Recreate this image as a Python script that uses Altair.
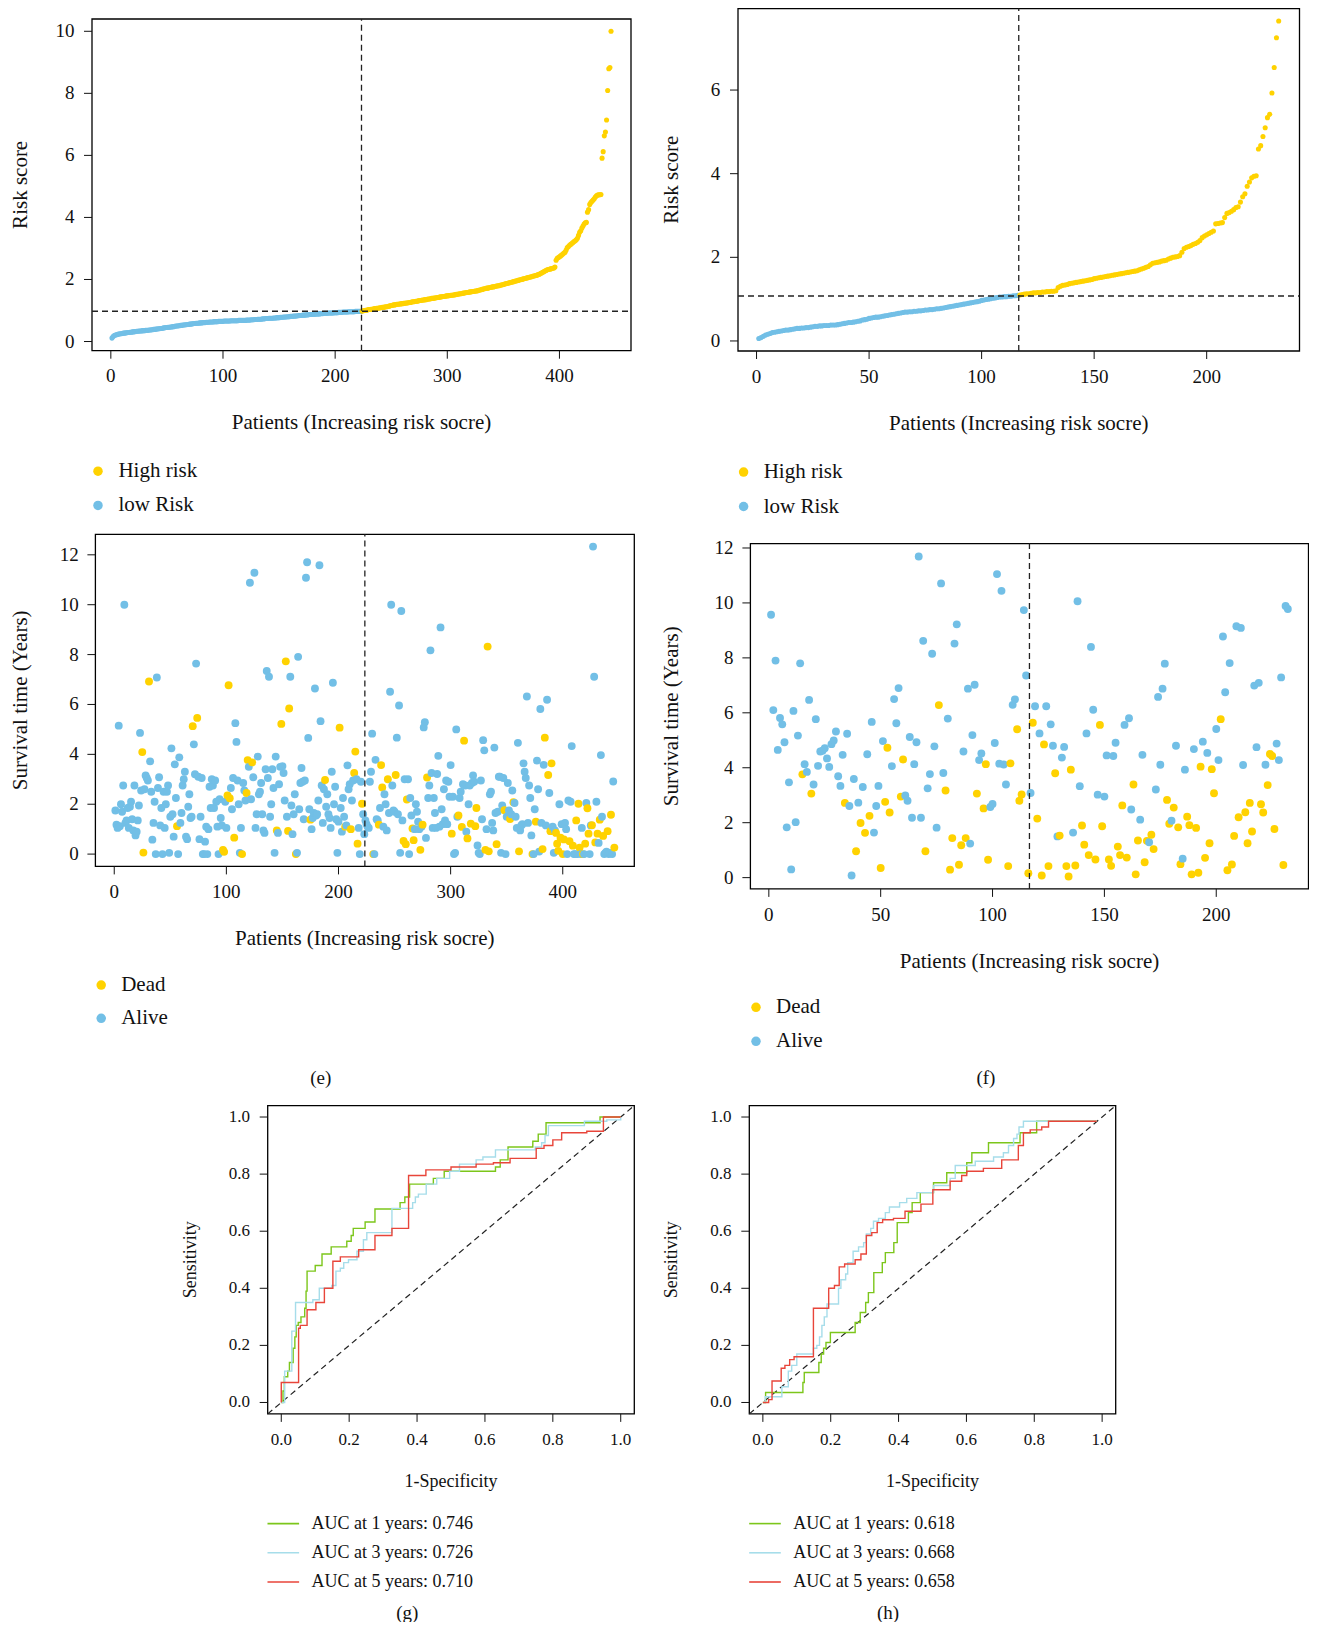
import altair as alt
import pandas as pd

W, H = 1301, 1614
FONT = "Liberation Serif"
INK = "#111111"
YELLOW = "#FFD200"
BLUE = "#72BFE6"
GREEN = "#7CC61B"
LBLUE = "#A6DDEA"
RED = "#E8453A"
DASH = [6, 4]

# ---------------- risk score, training set (sorted) ----------------
risk_train = [
    0.11, 0.16, 0.19, 0.21, 0.22, 0.23, 0.24, 0.25, 0.25, 0.26,
    0.27, 0.27, 0.28, 0.28, 0.29, 0.29, 0.30, 0.30, 0.31, 0.31,
    0.32, 0.32, 0.33, 0.33, 0.34, 0.34, 0.34, 0.35, 0.35, 0.35,
    0.36, 0.36, 0.36, 0.37, 0.37, 0.38, 0.38, 0.39, 0.39, 0.40,
    0.40, 0.41, 0.41, 0.42, 0.42, 0.43, 0.44, 0.44, 0.45, 0.45,
    0.46, 0.46, 0.47, 0.47, 0.48, 0.48, 0.49, 0.50, 0.50, 0.51,
    0.51, 0.52, 0.52, 0.53, 0.53, 0.54, 0.54, 0.55, 0.55, 0.56,
    0.56, 0.57, 0.57, 0.58, 0.58, 0.59, 0.59, 0.59, 0.60, 0.60,
    0.60, 0.61, 0.61, 0.61, 0.62, 0.62, 0.62, 0.63, 0.63, 0.63,
    0.63, 0.64, 0.64, 0.64, 0.64, 0.65, 0.65, 0.65, 0.65, 0.65,
    0.66, 0.66, 0.66, 0.66, 0.66, 0.66, 0.67, 0.67, 0.67, 0.67,
    0.67, 0.67, 0.67, 0.68, 0.68, 0.68, 0.68, 0.68, 0.68, 0.68,
    0.69, 0.69, 0.69, 0.69, 0.70, 0.70, 0.70, 0.71, 0.71, 0.71,
    0.72, 0.72, 0.72, 0.72, 0.73, 0.73, 0.73, 0.74, 0.74, 0.74,
    0.75, 0.75, 0.75, 0.75, 0.76, 0.76, 0.76, 0.77, 0.77, 0.77,
    0.78, 0.78, 0.78, 0.79, 0.79, 0.79, 0.80, 0.80, 0.80, 0.81,
    0.81, 0.81, 0.82, 0.82, 0.82, 0.83, 0.83, 0.84, 0.84, 0.84,
    0.85, 0.85, 0.85, 0.86, 0.86, 0.86, 0.87, 0.87, 0.87, 0.88,
    0.88, 0.88, 0.89, 0.89, 0.89, 0.89, 0.90, 0.90, 0.90, 0.91,
    0.91, 0.91, 0.91, 0.92, 0.92, 0.92, 0.92, 0.92, 0.93, 0.93,
    0.93, 0.93, 0.94, 0.94, 0.94, 0.94, 0.95, 0.95, 0.95, 0.95,
    0.95, 0.96, 0.96, 0.96, 0.96, 0.96, 0.96, 0.97, 0.97, 0.97,
    0.97, 0.97, 0.97,
    0.98, 0.99, 1.00, 1.01, 1.01, 1.02, 1.03,
    1.03, 1.04, 1.04, 1.05, 1.06, 1.06, 1.07, 1.07, 1.08, 1.09,
    1.09, 1.10, 1.10, 1.11, 1.12, 1.12, 1.13, 1.14, 1.15, 1.16,
    1.17, 1.18, 1.18, 1.19, 1.20, 1.20, 1.21, 1.21, 1.22, 1.22,
    1.23, 1.23, 1.24, 1.24, 1.25, 1.26, 1.26, 1.27, 1.28, 1.28,
    1.29, 1.30, 1.30, 1.31, 1.32, 1.32, 1.33, 1.34, 1.34, 1.35,
    1.35, 1.36, 1.37, 1.37, 1.38, 1.39, 1.39, 1.40, 1.40, 1.41,
    1.42, 1.42, 1.43, 1.44, 1.44, 1.45, 1.45, 1.46, 1.47, 1.47,
    1.48, 1.48, 1.49, 1.49, 1.50, 1.50, 1.51, 1.52, 1.52, 1.53,
    1.54, 1.54, 1.55, 1.56, 1.56, 1.57, 1.58, 1.58, 1.59, 1.60,
    1.60, 1.61, 1.61, 1.62, 1.63, 1.63, 1.64, 1.65, 1.66, 1.67,
    1.68, 1.69, 1.70, 1.71, 1.72, 1.72, 1.73, 1.74, 1.75, 1.76,
    1.76, 1.77, 1.78, 1.79, 1.80, 1.80, 1.81, 1.82, 1.83, 1.84,
    1.85, 1.86, 1.87, 1.88, 1.89, 1.90, 1.91, 1.92, 1.93, 1.94,
    1.95, 1.96, 1.97, 1.98, 1.99, 2.00, 2.01, 2.02, 2.03, 2.04,
    2.05, 2.06, 2.07, 2.08, 2.09, 2.10, 2.11, 2.12, 2.13, 2.14,
    2.16, 2.17, 2.19, 2.21, 2.23, 2.25, 2.27, 2.29, 2.31, 2.32,
    2.33, 2.34, 2.35, 2.36, 2.37, 2.40, 2.62, 2.68, 2.71, 2.73,
    2.76, 2.79, 2.82, 2.85, 2.88, 2.95, 3.03, 3.06, 3.10, 3.13,
    3.16, 3.19, 3.22, 3.25, 3.28, 3.33, 3.42, 3.52, 3.57, 3.66,
    3.72, 3.79, 3.83, 3.84, 4.17, 4.25, 4.42, 4.48, 4.52, 4.56,
    4.60, 4.66, 4.70, 4.72, 4.73, 4.73, 4.74, 5.91, 6.12, 6.63,
    6.75, 7.14, 8.09, 8.79, 8.83, 10.0,
]
n_low_train = 223
cut_train = 0.975

# ---------------- risk score, test set (sorted) ----------------
risk_test = [
    0.06, 0.08, 0.11, 0.14, 0.16, 0.18, 0.20, 0.21, 0.22, 0.23,
    0.24, 0.25, 0.26, 0.26, 0.27, 0.28, 0.29, 0.30, 0.30, 0.31,
    0.31, 0.32, 0.32, 0.33, 0.34, 0.35, 0.35, 0.36, 0.36, 0.37,
    0.37, 0.37, 0.38, 0.38, 0.38, 0.39, 0.40, 0.41, 0.42, 0.43,
    0.44, 0.44, 0.45, 0.46, 0.47, 0.48, 0.50, 0.51, 0.52, 0.54,
    0.55, 0.56, 0.57, 0.57, 0.58, 0.59, 0.60, 0.61, 0.62, 0.63,
    0.64, 0.65, 0.66, 0.67, 0.68, 0.69, 0.69, 0.70, 0.70, 0.71,
    0.71, 0.72, 0.72, 0.73, 0.74, 0.74, 0.75, 0.75, 0.76, 0.77,
    0.77, 0.78, 0.79, 0.80, 0.81, 0.82, 0.83, 0.84, 0.85, 0.86,
    0.87, 0.88, 0.89, 0.90, 0.91, 0.92, 0.93, 0.94, 0.95, 0.97,
    0.98, 0.99, 1.00, 1.01, 1.02, 1.03, 1.04, 1.05, 1.05, 1.06,
    1.06, 1.07, 1.07, 1.08, 1.08, 1.09,
    1.10, 1.11, 1.12, 1.13,
    1.13, 1.14, 1.15, 1.15, 1.16, 1.16, 1.17, 1.17, 1.18, 1.18,
    1.19, 1.19, 1.20, 1.28, 1.31, 1.33, 1.34, 1.35, 1.37, 1.38,
    1.39, 1.40, 1.41, 1.42, 1.43, 1.44, 1.45, 1.46, 1.47, 1.49,
    1.50, 1.51, 1.52, 1.53, 1.54, 1.55, 1.56, 1.57, 1.58, 1.59,
    1.60, 1.61, 1.62, 1.63, 1.64, 1.65, 1.66, 1.67, 1.68, 1.70,
    1.72, 1.74, 1.76, 1.78, 1.82, 1.86, 1.87, 1.88, 1.89, 1.91,
    1.92, 1.93, 1.96, 1.98, 2.00, 2.01, 2.02, 2.04, 2.12, 2.21,
    2.24, 2.26, 2.28, 2.31, 2.33, 2.36, 2.40, 2.47, 2.51, 2.54,
    2.57, 2.60, 2.63, 2.80, 2.81, 2.82, 2.83, 2.95, 3.05, 3.07,
    3.10, 3.14, 3.19, 3.21, 3.32, 3.45, 3.52, 3.70, 3.80, 3.90,
    3.94, 3.95, 4.59, 4.67, 4.89, 5.10, 5.34, 5.42, 5.93, 6.54,
    7.25, 7.65,
]
n_low_test = 116
cut_test = 1.075

# ---------------- survival, training set (patient order) ----------------
surv_train_time = [
    1.75, 1.18, 1.05, 5.15, 1.12, 2.0, 1.7, 2.75, 10.0, 1.25,
    1.35, 1.85, 1.05, 1.9, 2.1, 1.4, 0.95, 2.75, 0.75, 0.9,
    1.35, 1.95, 4.86, 2.55, 4.09, 0.06, 2.6, 3.15, 3.05, 2.95,
    6.92, 3.72, 2.5, 0.58, 1.25, 2.1, 0.0, 7.08, 2.65, 3.08,
    1.15, 1.85, 0.0, 2.5, 1.05, 2.0, 2.5, 2.75, 0.05, 1.5,
    4.24, 1.6, 0.7, 3.6, 2.25, 1.12, 0.0, 3.88, 1.25, 1.65,
    2.75, 3.0, 3.3, 0.7, 0.6, 1.9, 2.4, 1.45, 1.5, 5.13,
    4.40, 3.2, 7.64, 5.46, 3.1, 0.6, 1.5, 3.05, 0.0, 0.0,
    0.5, 1.1, 0.0, 1.0, 2.7, 1.85, 3.0, 2.75, 1.85, 2.95,
    2.1, 1.1, 0.0, 2.2, 1.45, 1.15, 0.17, 0.09, 2.1, 1.05,
    2.35, 6.77, 2.24, 2.65, 1.8, 3.05, 0.66, 5.25, 4.5, 2.95,
    2.0, 0.05, 1.05, 0.0, 2.85, 2.55, 2.15, 2.45, 3.77, 3.5,
    10.88, 2.2, 3.68, 3.08, 11.28, 1.05, 1.6, 3.91, 2.4, 2.5,
    2.85, 1.6, 0.95, 0.85, 3.4, 7.34, 3.05, 7.11, 1.5, 2.0,
    3.4, 2.65, 0.05, 3.91, 0.95, 0.85, 2.8, 3.5, 5.22, 3.53,
    3.25, 2.15, 7.73, 1.5, 0.93, 5.84, 7.11, 1.95, 0.8, 1.6,
    2.4, 0.0, 0.05, 7.91, 1.8, 2.85, 3.45, 2.9, 1.4, 2.95,
    11.08, 11.70, 4.66, 1.8, 1.38, 1.0, 1.45, 1.65, 6.64, 1.55,
    1.6, 2.15, 11.58, 5.33, 2.75, 1.25, 2.6, 2.97, 1.9, 2.4,
    1.6, 1.45, 1.05, 3.3, 6.87, 2.0, 2.7, 1.4, 0.05, 1.3,
    5.07, 1.85, 0.9, 2.25, 1.5, 1.10, 1.15, 3.56, 2.6, 2.8,
    1.0, 2.15, 2.95, 3.25, 4.11, 3.0, 0.42, 1.05, 0.0, 2.9,
    2.02, 1.6, 0.8, 1.35, 1.2, 1.1, 1.05, 2.9, 3.3, 4.83,
    0.0, 0.0, 3.78, 1.4, 1.35, 1.18, 1.85, 3.57, 2.67, 1.1,
    2.4, 2.0, 0.95, 3.0, 1.65, 6.51, 10.0, 2.75, 1.75, 1.7,
    3.17, 4.67, 1.6, 5.96, 0.05, 9.75, 1.35, 0.53, 3.0, 0.40,
    2.19, 3.0, 0.0, 2.25, 1.55, 1.03, 0.56, 1.0, 2.0, 1.7,
    1.3, 1.0, 0.17, 1.1, 1.18, 5.08, 5.29, 0.65, 3.07, 2.25,
    2.75, 8.17, 3.25, 1.05, 2.25, 1.65, 1.05, 3.21, 3.94, 1.1,
    9.09, 1.8, 1.2, 2.6, 1.35, 2.95, 1.2, 2.9, 2.3, 3.57,
    0.82, 2.3, 0.0, 0.05, 5.0, 1.5, 1.55, 2.25, 2.5, 1.09,
    2.8, 4.55, 2.75, 0.9, 0.63, 2.0, 2.75, 1.22, 2.85, 3.15,
    2.9, 1.12, 1.85, 0.35, 0.05, 0.0, 2.95, 1.4, 4.57, 4.16,
    0.17, 1.0, 8.32, 0.11, 2.4, 2.5, 1.25, 0.95, 4.27, 1.65,
    0.40, 1.7, 3.1, 3.1, 0.05, 1.95, 3.05, 1.76, 0.0, 1.5,
    2.85, 1.75, 1.41, 1.6, 2.55, 2.08, 2.05, 1.5, 1.05, 4.46,
    0.11, 0.95, 1.15, 1.2, 3.64, 3.3, 3.05, 6.32, 1.25, 2.75,
    2.25, 0.75, 0.0, 0.0, 1.8, 1.30, 3.75, 2.6, 0.1, 5.82,
    1.25, 0.20, 3.58, 4.67, 1.15, 6.19, 3.17, 2.45, 0.92, 3.64,
    1.1, 0.05, 0.95, 0.85, 0.42, 0.13, 2.0, 0.66, 1.2, 0.0,
    0.59, 1.25, 1.0, 0.0, 2.15, 0.52, 2.1, 4.33, 0.34, 0.0,
    0.0, 1.35, 0.0, 2.02, 0.26, 0.0, 1.05, 0.0, 0.0, 0.42,
    2.05, 1.84, 0.82, 0.0, 1.15, 1.16, 12.33, 7.11, 0.47, 2.1,
    0.82, 0.45, 1.38, 3.97, 1.5, 0.73, 0.0, 0.05, 0.1, 0.92,
    0.0, 0.05, 1.58, 0.0, 2.91, 0.26,
]
surv_train_dead = [
    0, 0, 0, 0, 0, 0, 0, 0, 0, 0,
    0, 0, 0, 0, 0, 0, 0, 0, 0, 0,
    0, 0, 0, 0, 1, 1, 0, 0, 0, 0,
    1, 0, 0, 0, 0, 0, 0, 0, 0, 0,
    0, 0, 0, 0, 0, 0, 0, 0, 0, 0,
    0, 0, 0, 0, 0, 1, 0, 0, 0, 0,
    0, 0, 0, 0, 0, 0, 0, 0, 0, 1,
    0, 0, 0, 1, 0, 0, 0, 0, 0, 0,
    0, 0, 0, 0, 0, 0, 0, 0, 0, 0,
    0, 0, 0, 0, 0, 0, 1, 1, 0, 0,
    1, 1, 1, 0, 0, 0, 1, 0, 0, 0,
    0, 0, 0, 1, 0, 0, 0, 1, 1, 0,
    0, 0, 1, 0, 0, 0, 0, 0, 0, 0,
    0, 0, 0, 0, 0, 0, 0, 0, 0, 0,
    0, 0, 0, 0, 1, 0, 0, 0, 1, 0,
    0, 0, 1, 0, 1, 1, 0, 0, 0, 0,
    0, 1, 0, 0, 0, 0, 0, 0, 0, 0,
    0, 0, 0, 0, 1, 0, 0, 0, 0, 0,
    0, 0, 0, 0, 0, 0, 0, 1, 0, 0,
    0, 0, 0, 0, 0, 0, 0, 0, 0, 0,
    1, 0, 0, 0, 0, 1, 0, 0, 0, 0,
    1, 0, 0, 1, 1, 0, 1, 0, 0, 0,
    1, 0, 0, 0, 0, 0, 0, 0, 0, 0,
    1, 0, 0, 0, 0, 1, 0, 1, 1, 0,
    0, 0, 0, 1, 0, 0, 0, 0, 0, 0,
    1, 0, 0, 0, 0, 0, 0, 1, 0, 1,
    1, 0, 0, 0, 0, 1, 1, 0, 0, 0,
    0, 0, 1, 0, 1, 0, 0, 0, 1, 0,
    0, 0, 0, 0, 0, 0, 0, 0, 0, 0,
    0, 0, 0, 0, 0, 0, 0, 0, 0, 0,
    1, 0, 0, 0, 0, 0, 1, 0, 0, 1,
    0, 1, 0, 0, 1, 0, 0, 1, 0, 0,
    0, 1, 1, 0, 0, 0, 0, 0, 0, 0,
    1, 0, 1, 1, 0, 0, 0, 0, 0, 0,
    1, 0, 0, 0, 0, 0, 0, 1, 0, 0,
    0, 0, 1, 0, 0, 1, 0, 0, 0, 0,
    1, 0, 0, 0, 0, 0, 0, 0, 0, 0,
    0, 0, 1, 0, 0, 1, 0, 0, 0, 0,
    0, 1, 0, 1, 0, 0, 1, 0, 1, 1,
    0, 0, 0, 1, 1, 1, 0, 1, 0, 1,
    1, 0, 0, 0, 0, 1, 0, 0, 1, 0,
    0, 1, 0, 1, 1, 0, 0, 1, 0, 1,
    0, 1, 1, 0, 0, 1, 0, 0, 1, 0,
    1, 0, 1, 0, 0, 1, 0, 0, 0, 1,
    0, 0, 1, 0, 0, 1,
]

# ---------------- survival, test set (patient order) ----------------
surv_test_time = [
    9.57, 6.1, 7.9, 4.65, 5.81, 5.58, 4.93, 1.83, 3.47, 0.3,
    6.07, 2.02, 5.17, 7.8, 3.76, 4.13, 3.85, 6.47, 3.06, 3.39,
    5.77, 4.07, 4.59, 4.62, 4.71, 4.34, 4.03, 4.86, 4.99, 5.32,
    3.69, 3.34, 4.47, 2.72, 5.24, 2.61, 0.08, 3.59, 0.96, 2.73,
    1.99, 3.30, 1.63, 4.49, 2.25, 5.67, 1.64, 2.61, 3.34, 0.35,
    4.97, 2.76, 4.73, 2.37, 4.06, 6.5, 5.62, 6.9, 2.95, 4.30,
    2.99, 2.80, 5.12, 2.18, 4.13, 4.93, 11.69, 2.18, 8.62, 0.96,
    3.25, 3.77, 8.15, 4.78, 1.82, 6.28, 10.71, 3.81, 3.17, 5.79,
    0.29, 1.44, 8.52, 9.22, 0.47, 1.18, 4.59, 1.44, 6.88, 1.24,
    5.19, 7.02, 3.06, 4.28, 4.52, 2.52, 4.13, 0.65, 2.57, 2.68,
    4.90, 11.05, 4.15, 10.44, 4.12, 3.39, 0.42, 4.16, 6.29, 6.49,
    5.40, 2.80, 3.03, 9.74, 7.36, 0.16, 3.08, 5.64, 6.24, 2.15,
    5.25, 0.08, 4.85, 6.24, 0.42, 5.58, 4.80, 3.80, 1.50, 1.53,
    4.37, 4.76, 0.42, 0.04, 3.93, 1.64, 0.44, 10.06, 3.33, 1.90,
    1.20, 5.25, 0.82, 8.40, 6.11, 0.66, 3.02, 5.56, 1.87, 2.95,
    4.45, 0.66, 0.43, 4.43, 4.91, 1.13, 0.82, 2.63, 5.56, 0.73,
    5.80, 2.48, 3.39, 0.12, 1.35, 2.11, 4.47, 0.56, 1.34, 1.29,
    1.56, 1.04, 3.21, 6.58, 4.11, 6.88, 7.79, 2.83, 1.96, 2.07,
    2.55, 4.80, 1.83, 0.49, 0.69, 3.93, 2.22, 1.91, 0.12, 4.68,
    1.81, 0.18, 4.04, 4.95, 0.72, 4.54, 1.25, 3.95, 3.07, 5.41,
    4.28, 5.77, 8.78, 6.75, 0.27, 7.81, 0.48, 1.52, 9.15, 2.20,
    9.09, 4.10, 2.38, 1.25, 2.72, 1.68, 6.99, 4.75, 7.09, 2.67,
    2.37, 4.11, 3.37, 4.50, 4.43, 1.77, 4.88, 4.28, 7.29, 0.46,
    9.89, 9.78,
]
surv_test_dead = [
    0, 0, 0, 0, 0, 0, 0, 0, 0, 0,
    0, 0, 0, 0, 1, 0, 0, 0, 1, 0,
    0, 0, 0, 0, 0, 0, 0, 0, 0, 0,
    0, 0, 0, 1, 0, 0, 0, 0, 1, 0,
    1, 0, 1, 0, 1, 0, 0, 0, 0, 1,
    0, 1, 1, 1, 0, 0, 0, 0, 1, 1,
    0, 0, 0, 0, 0, 0, 0, 0, 0, 1,
    0, 0, 0, 0, 0, 1, 0, 0, 1, 0,
    1, 1, 0, 0, 1, 1, 0, 1, 0, 0,
    0, 0, 1, 0, 0, 1, 1, 1, 0, 0,
    0, 0, 0, 0, 0, 0, 1, 1, 0, 0,
    1, 1, 1, 0, 0, 1, 0, 1, 0, 1,
    0, 1, 1, 0, 1, 0, 0, 1, 0, 1,
    0, 0, 1, 1, 1, 0, 1, 0, 0, 1,
    1, 0, 1, 0, 0, 1, 0, 1, 1, 0,
    0, 1, 1, 0, 0, 1, 1, 1, 0, 1,
    0, 0, 1, 1, 1, 0, 0, 1, 1, 0,
    1, 1, 0, 0, 0, 0, 0, 1, 1, 0,
    1, 0, 1, 1, 0, 0, 1, 1, 1, 0,
    1, 1, 1, 0, 1, 0, 1, 1, 1, 0,
    0, 1, 0, 0, 1, 0, 1, 1, 0, 1,
    0, 0, 1, 1, 1, 1, 0, 0, 0, 1,
    1, 0, 1, 1, 1, 1, 0, 0, 0, 1,
    0, 0,
]

# ---------------- time-dependent ROC, training set (g) ----------------
roc_g_labels = ["AUC at 1 years: 0.746", "AUC at 3 years: 0.726", "AUC at 5 years: 0.710"]
roc_g1_fpr = [0, 0.005, 0.009, 0.019, 0.024, 0.035, 0.040, 0.044, 0.050, 0.058, 0.069, 0.073,
              0.076, 0.100, 0.120, 0.147, 0.193, 0.206, 0.212, 0.247, 0.276, 0.350, 0.364,
              0.378, 0.448, 0.480, 0.631, 0.645, 0.668, 0.741, 0.757, 0.780, 0.939, 1.0]
roc_g1_tpr = [0, 0.04, 0.09, 0.11, 0.14, 0.19, 0.23, 0.27, 0.28, 0.30, 0.33, 0.39,
              0.46, 0.48, 0.52, 0.545, 0.565, 0.585, 0.61, 0.632, 0.678, 0.70, 0.72,
              0.765, 0.785, 0.81, 0.825, 0.85, 0.895, 0.915, 0.94, 0.98, 1.0, 1.0]
roc_g3_fpr = [0, 0.010, 0.031, 0.042, 0.093, 0.112, 0.149, 0.161, 0.174, 0.184, 0.198, 0.223,
              0.242, 0.252, 0.326, 0.387, 0.395, 0.404, 0.427, 0.458, 0.496, 0.525, 0.574,
              0.594, 0.631, 0.748, 0.767, 0.777, 0.787, 0.893, 0.959, 1.0]
roc_g3_tpr = [0, 0.11, 0.25, 0.35, 0.36, 0.40, 0.41, 0.46, 0.47, 0.49, 0.50, 0.53,
              0.57, 0.595, 0.68, 0.70, 0.72, 0.73, 0.765, 0.785, 0.81, 0.835, 0.85,
              0.86, 0.885, 0.895, 0.91, 0.935, 0.97, 0.985, 0.99, 1.0]
roc_g5_fpr = [0, 0.0, 0.051, 0.056, 0.076, 0.102, 0.127, 0.152, 0.174, 0.228, 0.276, 0.326,
              0.375, 0.426, 0.500, 0.574, 0.625, 0.674, 0.751, 0.774, 0.800, 0.826, 0.900,
              0.949, 1.0]
roc_g5_tpr = [0, 0.07, 0.26, 0.27, 0.325, 0.35, 0.40, 0.495, 0.51, 0.535, 0.585, 0.61,
              0.795, 0.815, 0.825, 0.835, 0.84, 0.855, 0.89, 0.90, 0.92, 0.945, 0.95,
              1.0, 1.0]

# ---------------- time-dependent ROC, test set (h) ----------------
roc_h_labels = ["AUC at 1 years: 0.618", "AUC at 3 years: 0.668", "AUC at 5 years: 0.658"]
roc_h1_fpr = [0, 0.008, 0.118, 0.122, 0.165, 0.172, 0.179, 0.186, 0.199, 0.272, 0.287, 0.303,
              0.311, 0.327, 0.352, 0.361, 0.386, 0.396, 0.429, 0.440, 0.464, 0.503, 0.542,
              0.601, 0.616, 0.665, 0.758, 0.807, 0.984]
roc_h1_tpr = [0, 0.035, 0.07, 0.105, 0.14, 0.17, 0.19, 0.21, 0.245, 0.28, 0.315, 0.35,
              0.385, 0.455, 0.49, 0.525, 0.56, 0.63, 0.665, 0.70, 0.735, 0.77, 0.805,
              0.84, 0.875, 0.91, 0.945, 0.985, 0.985]
roc_h3_fpr = [0, 0.007, 0.056, 0.075, 0.085, 0.100, 0.149, 0.159, 0.167, 0.174, 0.181, 0.189,
              0.223, 0.230, 0.244, 0.250, 0.266, 0.282, 0.297, 0.305, 0.318, 0.326, 0.341,
              0.361, 0.373, 0.403, 0.424, 0.454, 0.503, 0.552, 0.567, 0.626, 0.680, 0.709,
              0.724, 0.739, 0.749, 0.755, 0.768, 0.984]
roc_h3_tpr = [0, 0.02, 0.055, 0.11, 0.13, 0.17, 0.19, 0.20, 0.23, 0.27, 0.30, 0.345,
              0.40, 0.43, 0.45, 0.49, 0.53, 0.545, 0.56, 0.59, 0.61, 0.635, 0.645,
              0.665, 0.685, 0.70, 0.715, 0.735, 0.76, 0.785, 0.83, 0.845, 0.86, 0.875,
              0.90, 0.925, 0.94, 0.965, 0.985, 0.985]
roc_h5_fpr = [0, 0.017, 0.027, 0.054, 0.065, 0.079, 0.092, 0.149, 0.194, 0.211, 0.225, 0.241,
              0.272, 0.289, 0.305, 0.321, 0.337, 0.353, 0.385, 0.419, 0.466, 0.501, 0.552,
              0.586, 0.601, 0.650, 0.704, 0.753, 0.768, 0.788, 0.822, 0.842, 0.984]
roc_h5_tpr = [0, 0.01, 0.075, 0.12, 0.13, 0.15, 0.16, 0.33, 0.40, 0.41, 0.475, 0.485,
              0.50, 0.52, 0.585, 0.595, 0.63, 0.64, 0.645, 0.67, 0.695, 0.745, 0.775,
              0.795, 0.81, 0.82, 0.85, 0.90, 0.945, 0.955, 0.965, 0.985, 0.985]

captions = ["(e)", "(f)", "(g)", "(h)"]
ticks_train_x = [0, 100, 200, 300, 400]
ticks_test_x = [0, 50, 100, 150, 200]
ticks_risk_train_y = [0, 2, 4, 6, 8, 10]
ticks_risk_test_y = [0, 2, 4, 6]
ticks_surv_y = [0, 2, 4, 6, 8, 10, 12]
ticks_roc = [0.0, 0.2, 0.4, 0.6, 0.8, 1.0]


# ================= helpers =================
def scales(xd, xr, yd, yr):
    xs = alt.Scale(domain=xd, range=xr, nice=False, zero=False)
    ys = alt.Scale(domain=yd, range=yr, nice=False, zero=False)
    return xs, ys


def axis_marks(xd, xr, yd, yr, xs, ys, xticks, yticks, fmt, xtitle, ytitle,
               lab_dy, lab_dx, title_dy, ytitle_dy, size_l, size_t):
    ppx = abs(xr[1] - xr[0]) / (xd[1] - xd[0])
    ppy = abs(yr[0] - yr[1]) / (yd[1] - yd[0])
    tl = 8.0
    xt = pd.DataFrame({"v": xticks, "lab": [fmt(v) for v in xticks],
                       "b": [yd[0]] * len(xticks), "e": [yd[0] - tl / ppy] * len(xticks)})
    yt = pd.DataFrame({"v": yticks, "lab": [fmt(v) for v in yticks],
                       "b": [xd[0]] * len(yticks), "e": [xd[0] - tl / ppx] * len(yticks)})
    out = []
    out.append(alt.Chart(xt).mark_rule(color=INK, strokeWidth=1).encode(
        x=alt.X("v:Q", scale=xs, axis=None),
        y=alt.Y("b:Q", scale=ys, axis=None), y2="e:Q"))
    out.append(alt.Chart(xt).mark_text(font=FONT, fontSize=size_l, color=INK, align="center",
                                       baseline="middle", dy=lab_dy).encode(
        x=alt.X("v:Q", scale=xs, axis=None),
        y=alt.Y("b:Q", scale=ys, axis=None), text="lab:N"))
    out.append(alt.Chart(yt).mark_rule(color=INK, strokeWidth=1).encode(
        y=alt.Y("v:Q", scale=ys, axis=None),
        x=alt.X("b:Q", scale=xs, axis=None), x2="e:Q"))
    out.append(alt.Chart(yt).mark_text(font=FONT, fontSize=size_l, color=INK, align="right",
                                       baseline="middle", dx=lab_dx).encode(
        y=alt.Y("v:Q", scale=ys, axis=None),
        x=alt.X("b:Q", scale=xs, axis=None), text="lab:N"))
    tx = pd.DataFrame({"x": [(xd[0] + xd[1]) / 2], "y": [yd[0]], "t": [xtitle]})
    out.append(alt.Chart(tx).mark_text(font=FONT, fontSize=size_t, color=INK, align="center",
                                       baseline="middle", dy=title_dy).encode(
        x=alt.X("x:Q", scale=xs, axis=None),
        y=alt.Y("y:Q", scale=ys, axis=None), text="t:N"))
    ty = pd.DataFrame({"x": [xd[0]], "y": [(yd[0] + yd[1]) / 2], "t": [ytitle]})
    out.append(alt.Chart(ty).mark_text(font=FONT, fontSize=size_t, color=INK, align="center",
                                       baseline="middle", angle=270, dy=ytitle_dy).encode(
        x=alt.X("x:Q", scale=xs, axis=None),
        y=alt.Y("y:Q", scale=ys, axis=None), text="t:N"))
    return out


def legend(lx, ly, rowpad, lab_off, size_l, sym_type, sym_size, sym_sw):
    return alt.Legend(orient="none", legendX=lx, legendY=ly, title=None, padding=0,
                      rowPadding=rowpad, labelOffset=lab_off, labelFont=FONT,
                      labelFontSize=size_l, labelColor=INK, labelLimit=500,
                      symbolType=sym_type, symbolSize=sym_size, symbolStrokeWidth=sym_sw,
                      symbolOpacity=1, direction="vertical")


def frame(xd, yd, xs, ys):
    df = pd.DataFrame({"x0": [xd[0]], "x1": [xd[1]], "y0": [yd[0]], "y1": [yd[1]]})
    return alt.Chart(df).mark_rect(fillOpacity=0, stroke="black", strokeWidth=1.3).encode(
        x=alt.X("x0:Q", scale=xs, axis=None), x2="x1:Q",
        y=alt.Y("y0:Q", scale=ys, axis=None), y2="y1:Q")


def vline(v, yd, xs, ys):
    df = pd.DataFrame({"v": [v], "y0": [yd[0]], "y1": [yd[1]]})
    return alt.Chart(df).mark_rule(strokeDash=DASH, color="#222222", strokeWidth=1.3).encode(
        x=alt.X("v:Q", scale=xs, axis=None),
        y=alt.Y("y0:Q", scale=ys, axis=None), y2="y1:Q")


def hline(h, xd, xs, ys):
    df = pd.DataFrame({"h": [h], "x0": [xd[0]], "x1": [xd[1]]})
    return alt.Chart(df).mark_rule(strokeDash=DASH, color="#222222", strokeWidth=1.3).encode(
        y=alt.Y("h:Q", scale=ys, axis=None),
        x=alt.X("x0:Q", scale=xs, axis=None), x2="x1:Q")


def fmt_int(v):
    return str(int(round(v)))


def fmt_1(v):
    return "%.1f" % v


def risk_panel(scores, n_low, cut, xd, xr, yd, yr, xticks, yticks, title_dy, ytitle_dy,
               lab_dx, lx, ly, rowpad, loff):
    n = len(scores)
    df = pd.DataFrame({"patient": list(range(1, n + 1)), "score": scores,
                       "group": ["low Risk" if i < n_low else "High risk" for i in range(n)]})
    xs, ys = scales(xd, xr, yd, yr)
    pts = alt.Chart(df).mark_circle(size=26, opacity=1).encode(
        x=alt.X("patient:Q", scale=xs, axis=None),
        y=alt.Y("score:Q", scale=ys, axis=None),
        color=alt.Color("group:N",
                        scale=alt.Scale(domain=["High risk", "low Risk"], range=[YELLOW, BLUE]),
                        legend=legend(lx, ly, rowpad, loff, 21, "circle", 90, 0)))
    ax = axis_marks(xd, xr, yd, yr, xs, ys, xticks, yticks, fmt_int,
                    "Patients (Increasing risk socre)", "Risk score",
                    25.5, lab_dx, title_dy, ytitle_dy, 19, 21)
    return alt.layer(frame(xd, yd, xs, ys), pts, vline(n_low + 0.5, yd, xs, ys),
                     hline(cut, xd, xs, ys), *ax)


def surv_panel(times, dead, n_low, xd, xr, yd, yr, xticks, title_dy, ytitle_dy, lab_dx,
               lx, ly, rowpad, loff):
    n = len(times)
    df = pd.DataFrame({"patient": list(range(1, n + 1)), "time": times,
                       "status": ["Dead" if d else "Alive" for d in dead]})
    xs, ys = scales(xd, xr, yd, yr)
    pts = alt.Chart(df).mark_circle(size=62, opacity=1).encode(
        x=alt.X("patient:Q", scale=xs, axis=None),
        y=alt.Y("time:Q", scale=ys, axis=None),
        color=alt.Color("status:N",
                        scale=alt.Scale(domain=["Dead", "Alive"], range=[YELLOW, BLUE]),
                        legend=legend(lx, ly, rowpad, loff, 21, "circle", 90, 0)))
    ax = axis_marks(xd, xr, yd, yr, xs, ys, xticks, ticks_surv_y, fmt_int,
                    "Patients (Increasing risk socre)", "Survival time (Years)",
                    25.7, lab_dx, title_dy, ytitle_dy, 19, 21)
    return alt.layer(frame(xd, yd, xs, ys), pts, vline(n_low + 0.5, yd, xs, ys), *ax)


def roc_panel(curves, labels, xr, yr, ytitle_dy, lx, ly):
    rows = []
    for lab, (fx, fy) in zip(labels, curves):
        for k, (a, b) in enumerate(zip(fx, fy)):
            rows.append({"fpr": a, "tpr": b, "series": lab, "k": k})
    df = pd.DataFrame(rows)
    dom = [-0.04, 1.04]
    xs, ys = scales(dom, xr, dom, yr)
    diag = alt.Chart(pd.DataFrame({"d": dom})).mark_line(
        strokeDash=DASH, color="#222222", strokeWidth=1.2).encode(
        x=alt.X("d:Q", scale=xs, axis=None), y=alt.Y("d:Q", scale=ys, axis=None))
    lines = alt.Chart(df).mark_line(interpolate="step-after", strokeWidth=1.4).encode(
        x=alt.X("fpr:Q", scale=xs, axis=None),
        y=alt.Y("tpr:Q", scale=ys, axis=None),
        order=alt.Order("k:Q"),
        color=alt.Color("series:N",
                        scale=alt.Scale(domain=labels, range=[GREEN, LBLUE, RED]),
                        legend=legend(lx, ly, 3.2, 11.3, 18, "stroke", 1000, 1.6)))
    ax = axis_marks(dom, xr, dom, yr, xs, ys, ticks_roc, ticks_roc, fmt_1,
                    "1-Specificity", "Sensitivity", 25.9, -17.7, 67.7, ytitle_dy, 17, 18)
    return alt.layer(frame(dom, dom, xs, ys), diag, lines, *ax)


# ================= panels (chart pixel coordinates) =================
pA = risk_panel(risk_train, n_low_train, cut_train,
                [-16.8, 463.8], [84, 623], [-0.296, 10.396], [342.7, 11],
                ticks_train_x, ticks_risk_train_y, 72.6, -71.3, -17.4,
                79.5, 452.7, 12.2, 9.9)
pB = risk_panel(risk_test, n_low_test, cut_test,
                [-8.24, 241.24], [730, 1291.5], [-0.24, 7.95], [343, 0.5],
                ticks_test_x, ticks_risk_test_y, 73, -65.9, -17.8,
                725.1, 453.6, 12.4, 9.6)
pC = surv_panel(surv_train_time, surv_train_dead, n_low_train,
                [-16.8, 463.8], [87.4, 626.3], [-0.493, 12.823], [858.4, 526.3],
                ticks_train_x, 72.2, -74.7, -16.6,
                82.7, 966.6, 11.2, 9.5)
pD = surv_panel(surv_test_time, surv_test_dead, n_low_test,
                [-8.24, 241.24], [742.4, 1300.5], [-0.41, 12.16], [880.9, 535.6],
                ticks_test_x, 72.9, -78.3, -17.0,
                737.5, 988.8, 12.0, 9.5)
pE = roc_panel([(roc_g1_fpr, roc_g1_tpr), (roc_g3_fpr, roc_g3_tpr), (roc_g5_fpr, roc_g5_tpr)],
               roc_g_labels, [259.7, 626.3], [1405.9, 1097.6], -77, 258.3, 1498.6)
pF = roc_panel([(roc_h1_fpr, roc_h1_tpr), (roc_h3_fpr, roc_h3_tpr), (roc_h5_fpr, roc_h5_tpr)],
               roc_h_labels, [741.3, 1107.7], [1405.9, 1097.6], -77.6, 740.0, 1498.6)

cap_pos = [(312.7, 1070.0), (977.9, 1070.0), (399.3, 1605.0), (880.0, 1605.0)]
caps = []
for txt, (cx, cy) in zip(captions, cap_pos):
    caps.append(alt.Chart(pd.DataFrame({"t": [txt]})).mark_text(
        font=FONT, fontSize=19, color=INK, align="center", baseline="middle").encode(
        text="t:N", x=alt.value(cx), y=alt.value(cy)))

chart = alt.layer(pA, pB, pC, pD, pE, pF, *caps).resolve_scale(
    x="independent", y="independent", color="independent"
).properties(
    width=W, height=H, padding=0, autosize=alt.AutoSizeParams(type="none")
).configure_view(strokeWidth=0)

chart.save("out.html", embed_options={"renderer": "svg", "actions": False})
